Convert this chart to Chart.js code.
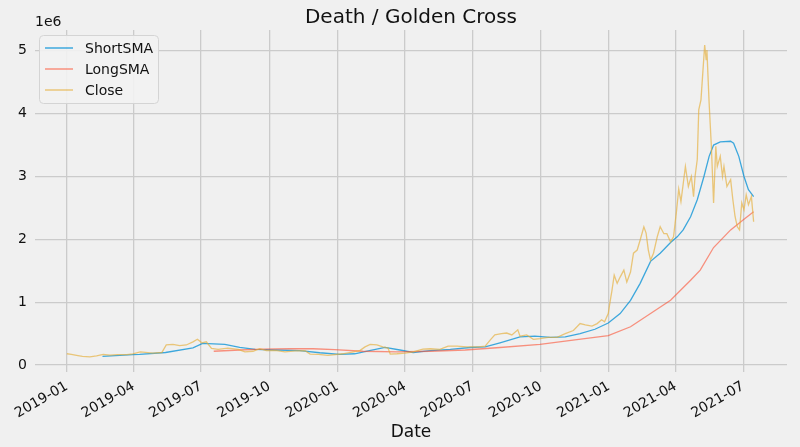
<!DOCTYPE html>
<html lang="en">
<head>
<meta charset="UTF-8">
<title>Death / Golden Cross</title>
<script src="https://cdn.jsdelivr.net/npm/chart.js"></script>
<style>
    html, body { margin: 0; padding: 0; background: #f0f0f0; }
    canvas { display: block; }
</style>
</head>
<body>
<canvas id="cross" width="800" height="447"></canvas>
<script>
// prices in millions (the y axis carries the 1e6 offset)
var closeDates = ['2019-01-01','2019-01-07','2019-01-14','2019-01-22','2019-02-01','2019-02-10','2019-02-19','2019-02-28','2019-03-10','2019-03-23','2019-03-31','2019-04-10','2019-04-27','2019-05-09','2019-05-15','2019-05-24','2019-06-02','2019-06-11','2019-06-20','2019-06-26','2019-07-02','2019-07-08','2019-07-15','2019-07-24','2019-08-06','2019-08-20','2019-08-29','2019-09-09','2019-09-18','2019-09-27','2019-10-09','2019-10-22','2019-11-05','2019-11-18','2019-11-25','2019-12-06','2019-12-19',
    '2020-01-08','2020-01-31','2020-02-07','2020-02-14','2020-02-23','2020-03-02','2020-03-09','2020-03-12','2020-03-21','2020-04-01','2020-04-12','2020-04-25','2020-05-05','2020-05-18','2020-05-29','2020-06-10','2020-06-23','2020-07-09','2020-07-18','2020-07-25','2020-07-31','2020-08-09','2020-08-16','2020-08-23','2020-08-31','2020-09-03','2020-09-12','2020-09-21','2020-09-30','2020-10-11','2020-10-23','2020-11-03','2020-11-14','2020-11-23','2020-11-30','2020-12-09','2020-12-16','2020-12-22','2020-12-26','2020-12-31',
    '2021-01-03','2021-01-05','2021-01-08','2021-01-12','2021-01-16','2021-01-21','2021-01-25','2021-01-30','2021-02-03','2021-02-08','2021-02-12','2021-02-17','2021-02-20','2021-02-23','2021-02-26','2021-03-02','2021-03-07','2021-03-11','2021-03-16','2021-03-20','2021-03-25','2021-03-29','2021-04-02','2021-04-05','2021-04-08','2021-04-14','2021-04-18','2021-04-22','2021-04-25','2021-04-27','2021-04-30','2021-05-02','2021-05-05','2021-05-10','2021-05-12','2021-05-13','2021-05-16','2021-05-19','2021-05-22','2021-05-25','2021-05-27','2021-05-31','2021-06-03','2021-06-05','2021-06-09','2021-06-14','2021-06-17','2021-06-20','2021-06-23','2021-06-26','2021-06-29','2021-07-02','2021-07-05','2021-07-08','2021-07-12','2021-07-15'];
var closeVals = [0.18,0.17,0.155,0.14,0.13,0.145,0.17,0.16,0.165,0.165,0.18,0.21,0.19,0.20,0.32,0.33,0.31,0.32,0.37,0.41,0.355,0.37,0.265,0.25,0.27,0.25,0.21,0.22,0.26,0.23,0.235,0.21,0.225,0.23,0.175,0.17,0.155,
    0.18,0.23,0.29,0.33,0.32,0.29,0.27,0.175,0.18,0.19,0.21,0.255,0.26,0.25,0.30,0.30,0.29,0.29,0.30,0.40,0.48,0.50,0.51,0.48,0.56,0.46,0.48,0.41,0.42,0.44,0.44,0.50,0.55,0.66,0.64,0.62,0.66,0.72,0.69,0.82,
    1.05,1.19,1.43,1.30,1.40,1.51,1.32,1.48,1.78,1.83,1.99,2.20,2.10,1.83,1.67,1.78,2.04,2.20,2.09,2.09,1.96,2.04,2.45,2.80,2.60,3.16,2.84,3.00,2.68,3.00,3.27,4.06,4.22,5.09,4.86,5.01,4.17,3.48,2.58,3.48,3.16,3.32,3.00,3.16,2.84,2.95,2.63,2.36,2.20,2.15,2.58,2.47,2.71,2.55,2.68,2.28];

var shortDates = ['2019-02-18','2019-03-31','2019-04-09','2019-05-14','2019-06-20','2019-07-03','2019-08-02','2019-08-22','2019-09-12','2019-10-09','2019-11-11','2019-12-08','2020-01-04','2020-01-24','2020-02-13','2020-03-05','2020-03-25','2020-04-12','2020-05-05','2020-06-01','2020-06-28','2020-07-18','2020-08-07','2020-09-03','2020-09-23','2020-10-14','2020-11-03','2020-11-23','2020-12-13','2020-12-31','2021-01-16','2021-01-30','2021-02-12','2021-02-26','2021-03-11','2021-03-25','2021-04-03','2021-04-11','2021-04-21','2021-04-30','2021-05-09','2021-05-16','2021-05-22','2021-05-31','2021-06-14','2021-06-18','2021-06-25','2021-07-02','2021-07-08','2021-07-15'];
var shortVals = [0.14,0.165,0.17,0.20,0.275,0.345,0.33,0.28,0.25,0.24,0.23,0.196,0.17,0.18,0.23,0.28,0.24,0.20,0.23,0.25,0.28,0.29,0.355,0.45,0.46,0.44,0.45,0.50,0.57,0.67,0.82,1.03,1.30,1.65,1.78,1.95,2.04,2.15,2.36,2.63,3.00,3.32,3.50,3.55,3.56,3.53,3.32,3.00,2.79,2.68];

var longDates = ['2019-07-18','2019-08-22','2019-09-22','2019-10-29','2019-11-29','2019-12-28','2020-02-04','2020-03-21','2020-05-05','2020-06-21','2020-08-07','2020-09-30','2020-11-16','2020-12-31','2021-01-30','2021-02-26','2021-03-25','2021-04-21','2021-05-04','2021-05-22','2021-06-14','2021-07-02','2021-07-15'];
var longVals = [0.22,0.24,0.255,0.26,0.26,0.245,0.22,0.21,0.22,0.24,0.28,0.33,0.40,0.47,0.61,0.82,1.03,1.35,1.51,1.87,2.15,2.32,2.44];

var xTickLabels = ['2019-01','2019-04','2019-07','2019-10','2020-01','2020-04','2020-07','2020-10','2021-01','2021-04','2021-07'];
var yTickVals = [0, 1, 2, 3, 4, 5];

var FONT = '"DejaVu Sans", sans-serif';

// days since 2019-01-01
function dayNum(s) {
    var p = s.split('-');
    return (Date.UTC(+p[0], +p[1] - 1, p[2] ? +p[2] : 1) - Date.UTC(2019, 0, 1)) / 86400000;
}
function toPoints(dates, vals) {
    return dates.map(function (d, i) { return { x: dayNum(d), y: vals[i] }; });
}

// title, offset text, x label and the framed legend (matplotlib look)
var extras = {
    id: 'extras',
    afterDraw: function (chart) {
        var ctx = chart.ctx, a = chart.chartArea;
        ctx.save();
        ctx.fillStyle = '#111';
        ctx.textBaseline = 'alphabetic';

        ctx.font = '20px ' + FONT;
        ctx.textAlign = 'center';
        ctx.fillText('Death / Golden Cross', (a.left + a.right) / 2, 23);

        ctx.font = '17px ' + FONT;
        ctx.fillText('Date', (a.left + a.right) / 2, 437);

        ctx.font = '14px ' + FONT;
        ctx.textAlign = 'left';
        ctx.fillText('1e6', a.left, a.top - 4);

        // legend box
        ctx.beginPath();
        ctx.roundRect(39.5, 35.5, 119, 68, 4);
        ctx.fillStyle = 'rgba(242,242,242,0.9)';
        ctx.fill();
        ctx.strokeStyle = '#d4d4d4';
        ctx.lineWidth = 1;
        ctx.stroke();

        ctx.textBaseline = 'middle';
        chart.data.datasets.forEach(function (ds, i) {
            var y = 48 + i * 21;
            ctx.beginPath();
            ctx.moveTo(45, y);
            ctx.lineTo(73, y);
            ctx.strokeStyle = ds.borderColor;
            ctx.lineWidth = 1.5;
            ctx.stroke();
            ctx.fillStyle = '#111';
            ctx.fillText(ds.label, 85, y + 1);
        });
        ctx.restore();
    }
};

new Chart(document.getElementById('cross'), {
    type: 'line',
    data: {
        datasets: [
            { label: 'ShortSMA', data: toPoints(shortDates, shortVals), borderColor: 'rgba(0,143,213,0.75)', order: 3 },
            { label: 'LongSMA', data: toPoints(longDates, longVals), borderColor: 'rgba(252,79,48,0.6)', order: 2 },
            { label: 'Close', data: toPoints(closeDates, closeVals), borderColor: 'rgba(229,174,56,0.65)', order: 1 }
        ]
    },
    options: {
        responsive: false,
        animation: false,
        layout: { padding: { top: 30, right: 13, left: 0, bottom: 0 } },
        elements: {
            line: { borderWidth: 1.3, tension: 0 },
            point: { radius: 0, hoverRadius: 0 }
        },
        plugins: {
            legend: { display: false },
            title: { display: false },
            tooltip: { enabled: false }
        },
        scales: {
            x: {
                type: 'linear',
                min: dayNum('2018-11-19'),
                max: dayNum('2021-08-29'),
                afterBuildTicks: function (s) {
                    s.ticks = xTickLabels.map(function (t) { return { value: dayNum(t) }; });
                },
                afterFit: function (s) { s.height = 75; },
                ticks: {
                    autoSkip: false, minRotation: 30, maxRotation: 30, padding: 6,
                    color: '#111', font: { family: FONT, size: 14 },
                    callback: function (v, i) { return xTickLabels[i]; }
                },
                grid: { color: '#cbcbcb', lineWidth: 1.3, drawTicks: false },
                border: { display: false }
            },
            y: {
                min: -0.11,
                max: 5.33,
                afterBuildTicks: function (s) {
                    s.ticks = yTickVals.map(function (v) { return { value: v }; });
                },
                afterFit: function (s) { s.width = 35; },
                ticks: {
                    padding: 8, color: '#111', font: { family: FONT, size: 14 },
                    callback: function (v) { return String(v); }
                },
                grid: { color: '#cbcbcb', lineWidth: 1.3, drawTicks: false },
                border: { display: false }
            }
        }
    },
    plugins: [extras]
});
</script>
</body>
</html>
